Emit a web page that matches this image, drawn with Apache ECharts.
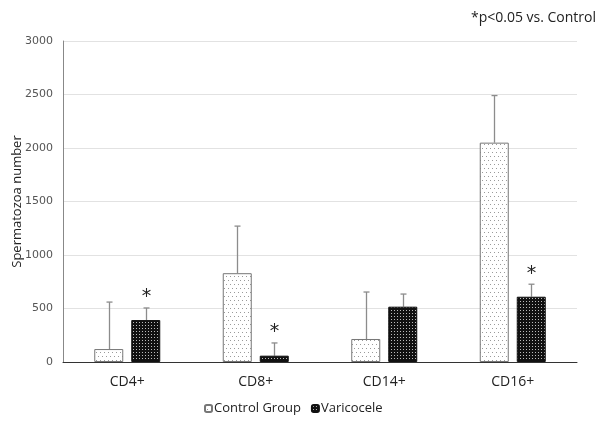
<!DOCTYPE html>
<html><head><meta charset="utf-8">
<script src="https://cdn.jsdelivr.net/npm/echarts@6/dist/echarts.min.js"></script>
<style>html,body{margin:0;padding:0;background:#fff}#c{width:608px;height:423px}</style>
</head><body><div id="c"></div>
<script>
const categories = ['CD4+', 'CD8+', 'CD14+', 'CD16+'];
const controlValues = [121, 830, 215, 2050];
const controlErrorTops = [560, 1270, 654, 2490];
const varicoceleValues = [392, 59, 517, 610];
const varicoceleErrorTops = [505, 178, 635, 727];
const significant = [1, 1, 0, 1];
const yTicks = [0, 500, 1000, 1500, 2000, 2500, 3000];

function makePattern(bg, dot, step, shift) {
  const c = document.createElement('canvas');
  c.width = step; c.height = step * 2;
  const x = c.getContext('2d');
  x.fillStyle = bg; x.fillRect(0, 0, c.width, c.height);
  x.fillStyle = dot;
  x.fillRect(0, 0, 1, 1);
  x.fillRect(shift, step, 1, 1);
  return c;
}
const ctrlPat = makePattern('#ffffff', '#9a9a9a', 4, 2);
function makeDark() {
  const c = document.createElement('canvas');
  c.width = 3; c.height = 3;
  const x = c.getContext('2d');
  x.fillStyle = '#111'; x.fillRect(0, 0, 3, 3);
  x.fillStyle = '#bbbbbb'; x.fillRect(1, 1, 1, 1);
  return c;
}
const darkPat = makeDark();

const chart = echarts.init(document.getElementById('c'), null, {renderer: 'canvas'});
const BAR_W = 29, GAP = 8;
function errRender(sign, stars) {
  return function (params, api) {
    const i = api.value(0);
    const base = api.coord([i, api.value(1)]);
    const top = api.coord([i, api.value(2)]);
    const x = Math.round(base[0] + sign * (BAR_W + GAP) / 2) + 0.5;
    const children = [
      {type: 'line', shape: {x1: x, y1: base[1], x2: x, y2: top[1]}, style: {stroke: '#8c8c8c', lineWidth: 1.3}},
      {type: 'line', shape: {x1: x - 3, y1: top[1], x2: x + 3, y2: top[1]}, style: {stroke: '#8c8c8c', lineWidth: 1.3}}
    ];
    if (stars && stars[i]) {
      children.push({type: 'text', style: {text: '*', x: x, y: top[1] - 1, textAlign: 'center', textVerticalAlign: 'bottom', fontSize: 19, fontFamily: 'DejaVu Sans', fill: '#222'}});
    }
    return {type: 'group', children: children};
  };
}

chart.setOption({
  animation: false,
  title: {text: '*p<0.05 vs. Control', right: 7, top: 6, textStyle: {fontSize: 14, fontWeight: 'normal', color: '#222', fontFamily: 'Open Sans'}},
  grid: {left: 63, right: 31, top: 41, bottom: 61, containLabel: false, outerBoundsMode: 'none'},
  legend: {
    bottom: 3, left: 199, itemWidth: 7, itemHeight: 7, itemGap: 10,
    data: ['Control Group', 'Varicocele'],
    textStyle: {fontSize: 13, color: '#222', fontFamily: 'Open Sans', padding: [0, 0, 0, -3]}
  },
  xAxis: {
    type: 'category', data: categories,
    axisLine: {lineStyle: {color: '#333', width: 1}},
    axisTick: {show: false},
    axisLabel: {fontSize: 14, color: '#222', margin: 13, fontFamily: 'Open Sans'}
  },
  yAxis: {
    type: 'value', min: yTicks[0], max: yTicks[yTicks.length - 1], interval: 500,
    name: 'Spermatozoa number', nameLocation: 'middle', nameGap: 39, nameMoveOverlap: false,
    nameTextStyle: {fontSize: 13, color: '#222', fontFamily: 'Open Sans'},
    axisLine: {show: true, lineStyle: {color: '#888'}},
    axisTick: {show: false},
    axisLabel: {fontSize: 11, color: '#555', margin: 10, fontFamily: 'DejaVu Sans', formatter: v => String(v)},
    splitLine: {lineStyle: {color: '#e2e2e2'}}
  },
  series: [
    {name: 'Control Group', type: 'bar', data: controlValues, barWidth: BAR_W, barGap: (GAP / BAR_W * 100) + '%',
     itemStyle: {color: {image: ctrlPat, repeat: 'repeat'}, borderColor: '#777', borderWidth: 1}},
    {name: 'Varicocele', type: 'bar', data: varicoceleValues, barWidth: BAR_W,
     itemStyle: {color: {image: darkPat, repeat: 'repeat'}, borderColor: '#111', borderWidth: 1}},
    {type: 'custom', renderItem: errRender(-1, null), z: 1,
     data: categories.map((c, i) => [i, controlValues[i], controlErrorTops[i]]), silent: true},
    {type: 'custom', renderItem: errRender(1, significant), z: 1,
     data: categories.map((c, i) => [i, varicoceleValues[i], varicoceleErrorTops[i]]), silent: true}
  ]
});
</script></body></html>
